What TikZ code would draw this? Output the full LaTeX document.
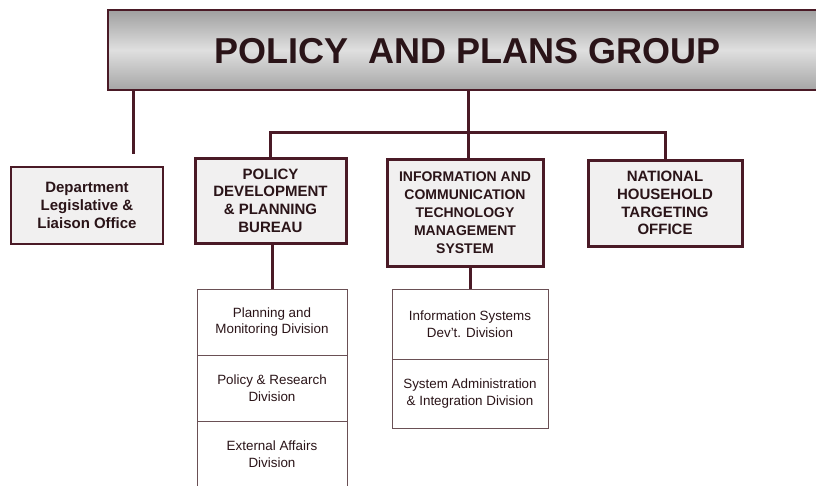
\documentclass[tikz,border=0pt]{standalone}
\usepackage{fontspec}
\setmainfont{Liberation Sans}
\definecolor{lc}{HTML}{4A1A26}
\definecolor{tc}{HTML}{2A1418}
\definecolor{dc}{HTML}{6A5055}
\definecolor{bf}{HTML}{F1F0F0}
\begin{document}
\begin{tikzpicture}[x=1pt,y=-1pt,
  conn/.style={draw=lc, line width=3pt},
  mainbox/.style={draw=lc, line width=3pt, fill=bf, align=center, text=tc,
    font=\bfseries\fontsize{15}{17.7}\selectfont, inner sep=0pt},
  deptbox/.style={mainbox, line width=1.4pt},
  divbox/.style={draw=dc, line width=0.9pt, fill=white, align=center, text=tc,
    font=\fontsize{13.4}{16.6}\selectfont, inner sep=0pt}]
\useasboundingbox (0,0) rectangle (816,485);
\clip (0,0) rectangle (816,485);
% top box
\node[draw=lc, line width=2.6pt, top color=gray!75, bottom color=gray!70, middle color=gray!25,
  minimum width=732pt, minimum height=80pt, inner sep=0pt] (top) at (474,50) {};
\node[font=\bfseries\fontsize{36}{40}\selectfont, text=tc, anchor=base] (title) at (467.5,63) {POLICY\ \ AND PLANS GROUP};
% level 1 boxes
\node[deptbox, minimum width=152pt, minimum height=77pt] (dept) at (87,205.5) {Department\\Legislative \&\\Liaison Office};
\node[mainbox, minimum width=151pt, minimum height=85pt] (pdb) at (270.5,200.5) {POLICY\\DEVELOPMENT\\\& PLANNING\\BUREAU};
\node[mainbox, minimum width=156pt, minimum height=107pt, font=\bfseries\fontsize{14}{18}\selectfont] (ict) at (465,212.5) {INFORMATION AND\\COMMUNICATION\\TECHNOLOGY\\MANAGEMENT\\SYSTEM};
\node[mainbox, minimum width=154pt, minimum height=86pt] (nht) at (665,203) {NATIONAL\\HOUSEHOLD\\TARGETING\\OFFICE};
% divisions
\node[divbox, minimum width=150pt, minimum height=66pt] (d1) at (272,322) {Planning and\\Monitoring Division};
\node[divbox, minimum width=150pt, minimum height=66pt] (d2) at (272,388) {Policy \& Research\\Division};
\node[divbox, minimum width=150pt, minimum height=66pt] (d3) at (272,454) {External Affairs\\Division};
\node[divbox, minimum width=156pt, minimum height=70pt] (e1) at (470,324) {Information Systems\\Dev't. Division};
\node[divbox, minimum width=156pt, minimum height=69pt] (e2) at (470,393.5) {System Administration\\\& Integration Division};
% connectors
\coordinate (lo) at (133,154);
\coordinate (bus) at (468,132);
\draw[conn] (top.south -| lo) -- (lo);
\draw[conn] (top.south -| bus) -- (bus);
\draw[conn] (pdb.north) |- (bus) -| (nht.north);
\draw[conn] (bus) -- (bus |- ict.north);
\draw[conn] (pdb.south -| d1.north) -- (d1.north);
\draw[conn] (ict.south -| e1.north) -- (e1.north);
\end{tikzpicture}
\end{document}
